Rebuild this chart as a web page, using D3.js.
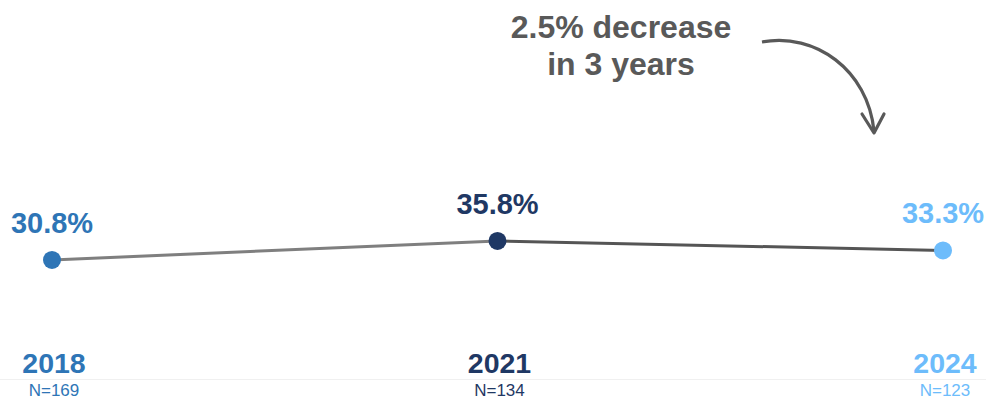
<!DOCTYPE html>
<html><head><meta charset="utf-8">
<script src="https://cdn.jsdelivr.net/npm/d3@7"></script>
<style>html,body{margin:0;padding:0;background:#fff;}svg{display:block;font-family:"Liberation Sans",Arial,sans-serif;}</style>
</head><body>
<svg id="chart" width="986" height="399"></svg>
<script>
const years = ["2018", "2021", "2024"];
const values = [30.8, 35.8, 33.3];
const sampleSizes = ["N=169", "N=134", "N=123"];
const colors = ["#2e75b6", "#1f3864", "#6dbcfb"];
const segmentColors = ["#7f7f7f", "#555555"];
const annotationLines = ["2.5% decrease", "in 3 years"];

const svg = d3.select("#chart");
const x = d3.scalePoint().domain(years).range([52, 943]);
const xLab = d3.scalePoint().domain(years).range([54, 945]);
const y = d3.scaleLinear().domain([20, 40]).range([301, 225]);
const pts = years.map((yr, i) => ({yr, v: values[i], n: sampleSizes[i], c: colors[i]}));

// separator
svg.append("line").attr("x1", 0).attr("x2", 986).attr("y1", 379.5).attr("y2", 379.5)
  .attr("stroke", "#f0f0f0").attr("stroke-width", 1);

// line segments
for (let i = 0; i < pts.length - 1; i++) {
  svg.append("line")
    .attr("x1", x(pts[i].yr)).attr("y1", y(pts[i].v))
    .attr("x2", x(pts[i+1].yr)).attr("y2", y(pts[i+1].v))
    .attr("stroke", segmentColors[i]).attr("stroke-width", 3);
}

// dots
svg.selectAll("circle.dot").data(pts).join("circle").attr("class", "dot")
  .attr("cx", d => x(d.yr)).attr("cy", d => y(d.v)).attr("r", 9)
  .attr("fill", d => d.c);

// value labels
svg.selectAll("text.val").data(pts).join("text").attr("class", "val")
  .attr("x", d => x(d.yr)).attr("y", d => y(d.v) - 27)
  .attr("text-anchor", "middle").attr("font-size", 29).attr("font-weight", "bold")
  .attr("fill", d => d.c).text(d => d.v.toFixed(1) + "%");

// year labels
svg.selectAll("text.yr").data(pts).join("text").attr("class", "yr")
  .attr("x", d => xLab(d.yr)).attr("y", 372.5)
  .attr("text-anchor", "middle").attr("font-size", 28.5).attr("font-weight", "bold")
  .attr("fill", d => d.c).text(d => d.yr);

// N labels
svg.selectAll("text.n").data(pts).join("text").attr("class", "n")
  .attr("x", d => xLab(d.yr)).attr("y", 396)
  .attr("text-anchor", "middle").attr("font-size", 17)
  .attr("fill", d => d.c).text(d => d.n);

// annotation
svg.selectAll("text.ann").data(annotationLines).join("text").attr("class", "ann")
  .attr("x", 621).attr("y", (d, i) => 38 + i * 37)
  .attr("text-anchor", "middle").attr("font-size", 32).attr("font-weight", "bold")
  .attr("fill", "#595959").text(d => d);

svg.append("path")
  .attr("d", "M762,42 C815,32 868,70 874,131")
  .attr("fill", "none").attr("stroke", "#595959").attr("stroke-width", 3.2);
svg.append("path")
  .attr("d", "M862,114 L874,133 L884,114")
  .attr("fill", "none").attr("stroke", "#595959").attr("stroke-width", 3.2)
  .attr("stroke-linejoin", "round").attr("stroke-linecap", "round");
</script>
</body></html>
